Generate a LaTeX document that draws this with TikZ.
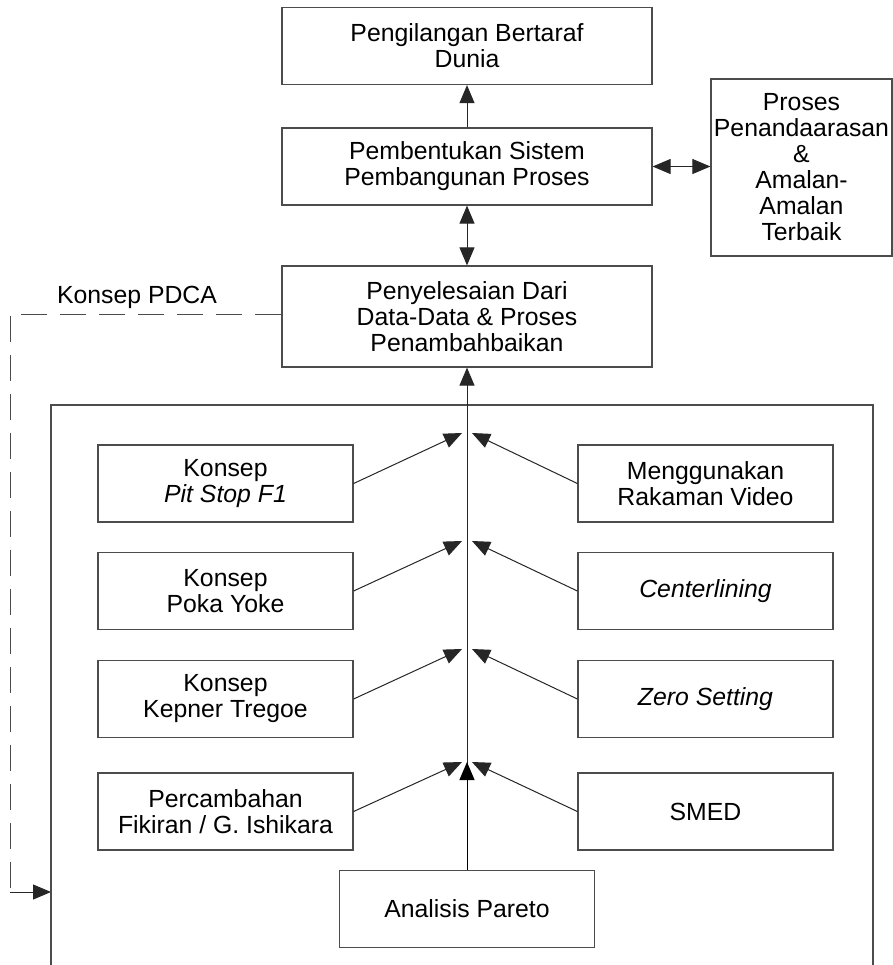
\documentclass[tikz,border=0pt]{standalone}
\usepackage{fontspec}
\setmainfont{Liberation Sans}
\usetikzlibrary{positioning, calc, arrows.meta}

\tikzset{
	kotak/.style = {draw=black!70, line width=0.6pt, align=center, inner sep=2pt},
	kotakbesar/.style = {kotak, minimum width=185pt, minimum height=38.5pt},
	kotakkecil/.style = {kotak, minimum width=127.5pt, minimum height=38.5pt},
	panah/.style = {draw=black!85, line width=0.5pt, -{Triangle[length=9pt,width=7.5pt]}},
	duapanah/.style = {draw=black!85, line width=0.5pt, {Triangle[length=9pt,width=7.5pt]}-{Triangle[length=9pt,width=7.5pt]}}
}

\begin{document}
\begin{tikzpicture}[x=0.5pt, y=-0.5pt, font=\fontsize{12.4}{13}\selectfont]
	\useasboundingbox (0,0) rectangle (893,965);

	% bahagian atas
	\node[kotakbesar] (dunia) at (467,46) {Pengilangan Bertaraf\\Dunia};
	\node[kotakbesar] (sistem) at (467,166.5) {Pembentukan Sistem\\Pembangunan Proses};
	\node[kotak, inner xsep=0pt, minimum width=90.5pt, minimum height=88.5pt] (tanda) at (801.5,167.5)
		{Proses\\Penandaarasan\\\&\\Amalan-\\Amalan\\Terbaik};
	\node[kotakbesar, minimum height=50.5pt] (selesai) at (467,316.5) {Penyelesaian Dari\\Data-Data \& Proses\\Penambahbaikan};

	\draw[panah] (sistem) -- (dunia);
	\draw[duapanah] (sistem.east) -- (sistem.east -| tanda.west);
	\draw[duapanah] (sistem) -- (selesai);

	% kitaran PDCA
	\node (pdca) at (137,297) {Konsep PDCA};
	\coordinate (pdcabawah) at (10,892);
	\coordinate (masuk) at (51,892);
	\draw[draw=black!70, line width=0.5pt, dash pattern=on 13pt off 6.5pt] (selesai.west |- 0,314) -- (10,314) -- (pdcabawah);
	\draw[panah] (pdcabawah) -- (masuk);

	% bingkai kaedah
	\draw[draw=black!70, line width=0.6pt] (51,965) -- (51,405) -- (873,405) -- (873,965);

	\node[kotakkecil] (pitstop) at (225.5,483.5) {Konsep\\\textit{Pit Stop F1}};
	\node[kotakkecil] (video) at (705.5,483.5) {Menggunakan\\Rakaman Video};
	\node[kotakkecil] (pokayoke) at (225.5,591) {Konsep\\Poka Yoke};
	\node[kotakkecil] (center) at (705.5,591) {\textit{Centerlining}};
	\node[kotakkecil] (kepner) at (225.5,699) {Konsep\\Kepner Tregoe};
	\node[kotakkecil] (zero) at (705.5,699) {\textit{Zero Setting}};
	\node[kotakkecil] (fikiran) at (225.5,811.5) {Percambahan\\Fikiran / G. Ishikara};
	\node[kotakkecil] (smed) at (705.5,811.5) {SMED};
	\node[kotakkecil] (pareto) at (467,909) {Analisis Pareto};

	\coordinate (kiri1) at (462,433);
	\coordinate (kanan1) at (472,433);
	\coordinate (kiri2) at (462,541);
	\coordinate (kanan2) at (472,541);
	\coordinate (kiri3) at (462,649);
	\coordinate (kanan3) at (472,649);
	\coordinate (kiri4) at (462,762);
	\coordinate (kanan4) at (472,762);
	\coordinate (tengah4) at (467,762);

	\draw[panah] (pareto) -- (selesai);
	\draw[panah, draw=black] (pareto) -- (tengah4);

	\draw[panah] (pitstop.east) -- (kiri1);
	\draw[panah] (video.west) -- (kanan1);
	\draw[panah] (pokayoke.east) -- (kiri2);
	\draw[panah] (center.west) -- (kanan2);
	\draw[panah] (kepner.east) -- (kiri3);
	\draw[panah] (zero.west) -- (kanan3);
	\draw[panah] (fikiran.east) -- (kiri4);
	\draw[panah] (smed.west) -- (kanan4);
\end{tikzpicture}
\end{document}
